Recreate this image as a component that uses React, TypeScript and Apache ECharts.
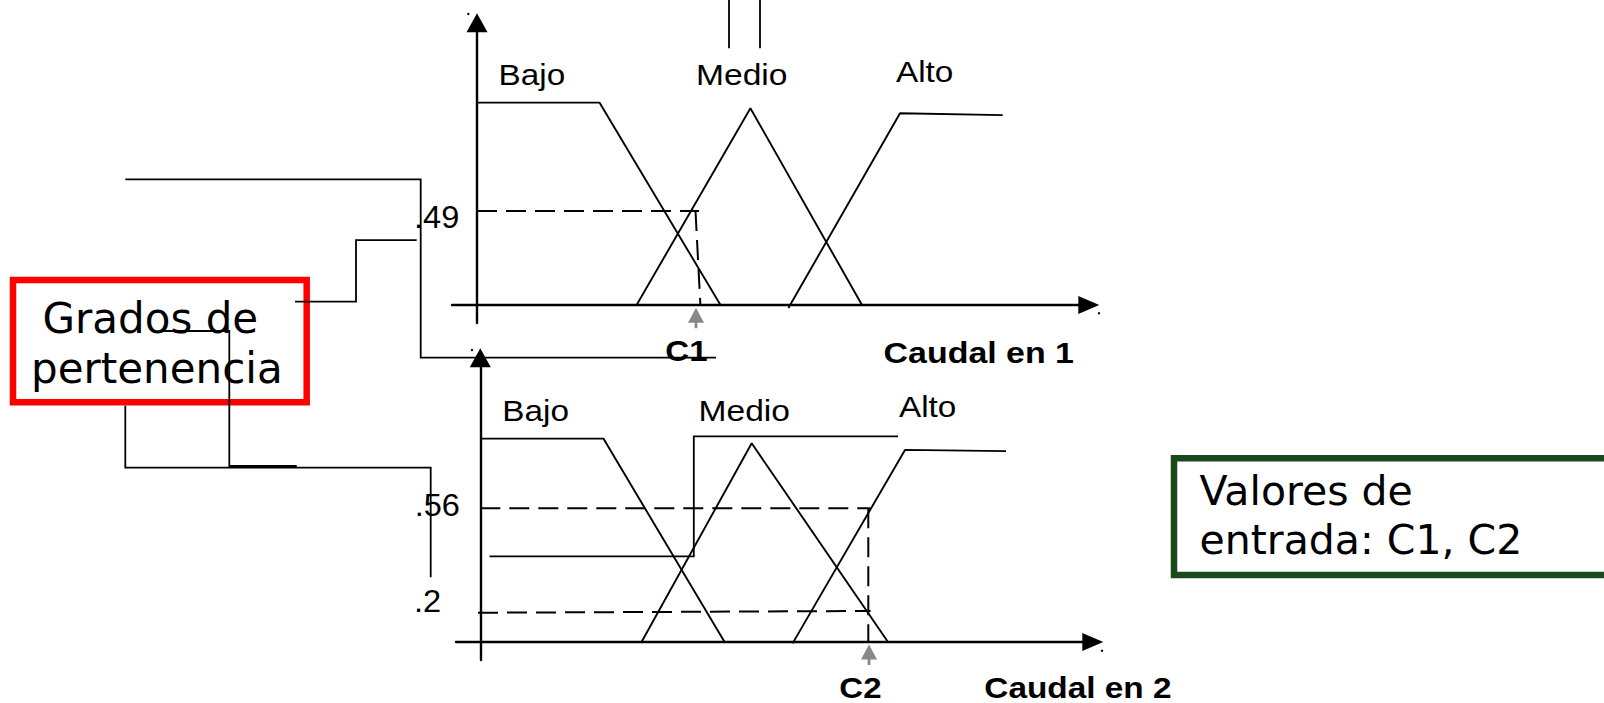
import React, { useEffect, useRef } from "react";
import * as echarts from "echarts";

// ---- data (caudal units, grado de pertenencia) ----
const setNames = ["Bajo", "Medio", "Alto"];
const inputNames = ["C1", "C2"];
const axisTitles = ["Caudal en 1", "Caudal en 2"];
const degreeLabels = [".49", ".56", ".2"];
const legendRed = ["Grados de", "pertenencia"];
const legendGreen = ["Valores de", "entrada: C1, C2"];

// Caudal en 1
const bajo1 = [[0, 1.055], [12.26, 1.055], [24.35, 0]];
const medio1 = [[15.96, 0], [27.34, 1.026], [38.5, 0]];
const alto1 = [[31.14, -0.016], [42.3, 1.0], [52.57, 0.99]];
const c1Value = 21.9;
const guide1H = [[0, 0.49], [22.2, 0.49]];
const guide1V = [[21.85, 0.49], [22.34, 0]];

// Caudal en 2
const bajo2 = [[0, 1.043], [12.31, 1.043], [24.43, 0]];
const medio2 = [[16.07, -0.005], [27.14, 1.019], [40.77, 0]];
const alto2 = [[31.23, -0.007], [42.47, 0.985], [52.57, 0.979]];
const c2Value = 38.87;
const guide2H56 = [[0, 0.686], [39.03, 0.686]];
const guide2H2 = [[-0.23, 0.15], [39.03, 0.159]];
const guide2V = [[38.8, 0.686], [38.8, 0]];

// ---- layout ----
const REG = '30px "Liberation Sans"';
const BOLD = 'bold 29px "Liberation Sans"';
const DJ = '42px "DejaVu Sans"';
const DJ2 = '41px "DejaVu Sans"';

function txt(text: string, x: number, y: number, font: string, scaleX = 1) {
  return {
    type: "text",
    x,
    y,
    scaleX,
    z: 20,
    silent: true,
    style: {
      text,
      font,
      fill: "#000",
      align: "left",
      verticalAlign: "middle",
      textAlign: "left",
      textVerticalAlign: "middle",
    },
  };
}

function pl(points: number[][], width = 1.8, color = "#000") {
  return {
    type: "polyline",
    z: 15,
    silent: true,
    shape: { points },
    style: { stroke: color, lineWidth: width, fill: "none" },
  };
}

function dot(x: number, y: number) {
  return { type: "circle", z: 15, silent: true, shape: { cx: x, cy: y, r: 1.2 }, style: { fill: "#000" } };
}

function mf(data: number[][], idx: number, dashed = false) {
  return {
    type: "line",
    xAxisIndex: idx,
    yAxisIndex: idx,
    data,
    symbol: "none",
    showSymbol: false,
    clip: false,
    silent: true,
    z: 3,
    lineStyle: { color: "#000", width: dashed ? 2 : 1.9, type: dashed ? [20, 9] : "solid" },
  };
}

function inputArrow(x: number, yLow: number, yHead: number, idx: number) {
  return {
    type: "line",
    xAxisIndex: idx,
    yAxisIndex: idx,
    clip: false,
    silent: true,
    z: 4,
    data: [
      { value: [x, yLow], symbol: "none" },
      { value: [x, yHead], symbol: "triangle", symbolSize: [16, 15] },
    ],
    lineStyle: { color: "#888888", width: 2.8 },
    itemStyle: { color: "#888888", borderWidth: 0 },
  };
}

function axisPair(idx: number, xmin: number, xmax: number, ymin: number, ymax: number) {
  const common = {
    gridIndex: idx,
    type: "value",
    axisTick: { show: false },
    axisLabel: { show: false },
    splitLine: { show: false },
  };
  return {
    x: {
      ...common,
      min: xmin,
      max: xmax,
      axisLine: {
        show: true,
        onZero: true,
        symbol: ["none", "triangle"],
        symbolSize: [18, 21],
        lineStyle: { color: "#000", width: 2.4 },
      },
    },
    y: {
      ...common,
      min: ymin,
      max: ymax,
      axisLine: {
        show: true,
        onZero: true,
        symbol: ["none", "triangle"],
        symbolSize: [21, 19],
        lineStyle: { color: "#000", width: 2.4 },
      },
    },
  };
}

export default function App() {
  const ref = useRef<HTMLDivElement>(null);
  useEffect(() => {
    if (!ref.current) return;
    const chart = echarts.init(ref.current, undefined, { renderer: "svg" });
    const a1 = axisPair(0, -2.5, 61.18, -0.0938, 1.4713);
    const a2 = axisPair(1, -2.43, 61.25, -0.0923, 1.4574);
    chart.setOption({
      animation: false,
      backgroundColor: "#fff",
      grid: [
        { left: 452, top: 22.8, width: 636.8, height: 300.2, outerBoundsMode: "none", containLabel: false },
        { left: 456, top: 357.8, width: 636.8, height: 302.2, outerBoundsMode: "none", containLabel: false },
      ],
      xAxis: [a1.x, a2.x],
      yAxis: [a1.y, a2.y],
      series: [
        mf(bajo1, 0),
        mf(medio1, 0),
        mf(alto1, 0),
        mf(guide1H, 0, true),
        mf(guide1V, 0, true),
        inputArrow(c1Value, -0.121, -0.0537, 0),
        mf(bajo2, 1),
        mf(medio2, 1),
        mf(alto2, 1),
        mf(guide2H56, 1, true),
        mf(guide2H2, 1, true),
        mf(guide2V, 1, true),
        inputArrow(c2Value, -0.118, -0.0513, 1),
      ],
      graphic: [
        // boxes
        {
          type: "rect",
          z: 12,
          silent: true,
          shape: { x: 13, y: 280, width: 293.7, height: 122.3 },
          style: { fill: "none", stroke: "#ff0000", lineWidth: 6.5 },
        },
        {
          type: "rect",
          z: 12,
          silent: true,
          shape: { x: 1174, y: 458.3, width: 600, height: 116.7 },
          style: { fill: "none", stroke: "#1a4a1c", lineWidth: 6.5 },
        },
        // connectors
        pl([[125.3, 179.3], [420.7, 179.3], [420.7, 357.7], [716, 357.7]]),
        pl([[295, 301.7], [356, 301.7], [356, 240.2], [416.7, 240.2]]),
        pl([[163.3, 331], [229.3, 331], [229.3, 466], [296.7, 466]]),
        pl([[125.3, 405.7], [125.3, 467.7], [430.7, 467.7], [430.7, 577.3]]),
        pl([[729, 0], [729, 48.3]]),
        pl([[760, 0], [760, 48.3]]),
        pl([[489.5, 556.4], [693.8, 556.4], [693.8, 436.3], [898, 436.3]]),
        dot(468.3, 14),
        dot(1099, 313.3),
        dot(472, 350),
        dot(1102, 650.7),
        // set labels
        txt(setNames[0], 498.6, 74.5, REG, 1.11),
        txt(setNames[1], 696, 74.5, REG, 1.12),
        txt(setNames[2], 896, 71.2, REG, 1.11),
        txt(setNames[0], 502.3, 410.5, REG, 1.11),
        txt(setNames[1], 698.5, 410.2, REG, 1.12),
        txt(setNames[2], 899, 406.8, REG, 1.11),
        // degree labels
        txt(degreeLabels[0], 414, 216.8, '31px "Liberation Sans"', 1.05),
        txt(degreeLabels[1], 414.7, 505, '31px "Liberation Sans"', 1.05),
        txt(degreeLabels[2], 414, 601, '31px "Liberation Sans"', 1.05),
        // inputs and axis titles
        txt(inputNames[0], 665.3, 351.5, BOLD, 1.14),
        txt(axisTitles[0], 883.6, 352.8, BOLD, 1.17),
        txt(inputNames[1], 839.3, 688, BOLD, 1.14),
        txt(axisTitles[1], 984.3, 688, BOLD, 1.15),
        // boxes text
        txt(legendRed[0], 42.5, 318.2, DJ),
        txt(legendRed[1], 31, 368.2, DJ),
        txt(legendGreen[0], 1199.5, 490.8, DJ2),
        txt(legendGreen[1], 1199.5, 539.8, DJ2),
      ],
    });
    return () => chart.dispose();
  }, []);
  return (
    <div
      ref={ref}
      style={{ position: "absolute", left: 0, top: 0, width: 1604, height: 703, background: "#fff" }}
    />
  );
}
